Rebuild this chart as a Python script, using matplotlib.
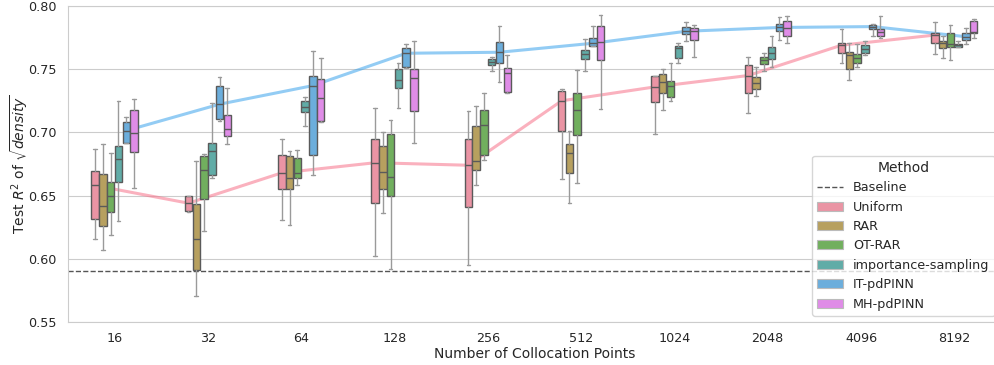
import matplotlib
matplotlib.use("Agg")
import matplotlib.pyplot as plt
from matplotlib.lines import Line2D
from matplotlib.patches import Patch
import seaborn as sns

# ==== data: [whisker_lo, q1, median, q3, whisker_hi] per collocation size ====
n_points = ["16", "32", "64", "128", "256", "512", "1024", "2048", "4096", "8192"]
methods = ["Uniform", "RAR", "OT-RAR", "importance-sampling", "IT-pdPINN", "MH-pdPINN"]
baseline = 0.59

uniform = [
    [0.6156, 0.6316, 0.658, 0.6696, 0.687],
    [0.637, 0.638, 0.644, 0.650, 0.650],
    [0.631, 0.655, 0.668, 0.682, 0.695],
    [0.602, 0.644, 0.676, 0.695, 0.719],
    [0.595, 0.641, 0.674, 0.695, 0.717],
    [0.663, 0.701, 0.725, 0.7325, 0.734],
    [0.699, 0.724, 0.736, 0.745, 0.745],
    [0.715, 0.731, 0.745, 0.753, 0.760],
    [0.755, 0.763, 0.769, 0.771, 0.782],
    [0.762, 0.771, 0.777, 0.779, 0.787],
]
rar = [
    [0.607, 0.626, 0.642, 0.667, 0.691],
    [0.5705, 0.591, 0.616, 0.6435, 0.6775],
    [0.627, 0.655, 0.664, 0.681, 0.685],
    [0.636, 0.655, 0.669, 0.689, 0.700],
    [0.658, 0.670, 0.6775, 0.705, 0.721],
    [0.644, 0.668, 0.684, 0.691, 0.701],
    [0.718, 0.7315, 0.740, 0.746, 0.750],
    [0.729, 0.734, 0.739, 0.744, 0.752],
    [0.7415, 0.750, 0.7615, 0.7634, 0.771],
    [0.759, 0.7666, 0.7705, 0.772, 0.776],
]
ot_rar = [
    [0.619, 0.637, 0.6495, 0.661, 0.684],
    [0.622, 0.647, 0.670, 0.681, 0.683],
    [0.658, 0.664, 0.668, 0.680, 0.686],
    [0.5916, 0.6495, 0.6645, 0.6985, 0.7096],
    [0.6785, 0.682, 0.706, 0.718, 0.731],
    [0.660, 0.698, 0.718, 0.731, 0.749],
    [0.725, 0.728, 0.737, 0.741, 0.755],
    [0.7486, 0.754, 0.757, 0.7594, 0.7626],
    [0.752, 0.755, 0.7586, 0.762, 0.770],
    [0.757, 0.7676, 0.770, 0.779, 0.785],
]
imp_sampling = [
    [0.630, 0.6606, 0.679, 0.689, 0.725],
    [0.664, 0.666, 0.685, 0.692, 0.723],
    [0.705, 0.716, 0.720, 0.725, 0.728],
    [0.719, 0.735, 0.7415, 0.750, 0.755],
    [0.7486, 0.753, 0.756, 0.7584, 0.7594],
    [0.7486, 0.758, 0.762, 0.765, 0.774],
    [0.755, 0.759, 0.7665, 0.768, 0.7705],
    [0.752, 0.758, 0.7626, 0.7673, 0.776],
    [0.761, 0.7626, 0.7658, 0.7694, 0.7726],
    [0.7678, 0.7678, 0.7689, 0.770, 0.772],
]
it_pdpinn = [
    [0.6915, 0.692, 0.7014, 0.708, 0.712],
    [0.709, 0.7107, 0.7223, 0.737, 0.744],
    [0.666, 0.682, 0.737, 0.7444, 0.764],
    [0.751, 0.7515, 0.7626, 0.7665, 0.770],
    [0.740, 0.755, 0.7634, 0.7713, 0.784],
    [0.7686, 0.7686, 0.7705, 0.775, 0.7845],
    [0.772, 0.7776, 0.780, 0.783, 0.787],
    [0.773, 0.780, 0.783, 0.786, 0.791],
    [0.776, 0.7816, 0.7837, 0.785, 0.786],
    [0.770, 0.773, 0.7757, 0.7784, 0.7826],
]
mh_pdpinn = [
    [0.6564, 0.6848, 0.6993, 0.718, 0.7267],
    [0.6907, 0.6975, 0.7025, 0.714, 0.735],
    [0.708, 0.709, 0.727, 0.7426, 0.759],
    [0.692, 0.717, 0.743, 0.750, 0.772],
    [0.731, 0.7317, 0.7468, 0.7507, 0.761],
    [0.7186, 0.757, 0.7715, 0.784, 0.793],
    [0.760, 0.7734, 0.780, 0.7823, 0.785],
    [0.771, 0.776, 0.7826, 0.788, 0.792],
    [0.7745, 0.776, 0.7794, 0.782, 0.792],
    [0.7745, 0.7784, 0.7797, 0.788, 0.790],
]
summaries = [uniform, rar, ot_rar, imp_sampling, it_pdpinn, mh_pdpinn]

# ==== style ====
sns.set_style("whitegrid")
plt.rcParams["font.family"] = ["DejaVu Sans"]
raw_colors = sns.color_palette("husl", len(methods))


def soften(c, amt=0.15):
    # desaturate like seaborn boxplot, then lift toward white a bit
    r, g, b = sns.desaturate(c, 0.75)
    return (r + (1 - r) * amt, g + (1 - g) * amt, b + (1 - b) * amt)


box_colors = [soften(c) for c in raw_colors]
edge_col = "#5a5a5a"
whisk_col = "#9a9a9a"

fig = plt.figure(figsize=(9.95, 3.65), dpi=100)
ax = fig.add_axes([0.0683, 0.1178, 0.9377, 0.8658])

n_hue = len(methods)
slot = 0.5 / n_hue
box_w = slot * 0.96
offsets = [(i - (n_hue - 1) / 2) * slot for i in range(n_hue)]

for k, (name, summ) in enumerate(zip(methods, summaries)):
    stats = []
    for lo, q1, med, q3, hi in summ:
        stats.append(dict(whislo=lo, q1=q1, med=med, q3=q3, whishi=hi, fliers=[]))
    pos = [g + offsets[k] for g in range(len(n_points))]
    ax.bxp(stats, positions=pos, widths=box_w, patch_artist=True,
           showfliers=False, manage_ticks=False, zorder=3,
           boxprops=dict(facecolor=box_colors[k], edgecolor=edge_col, linewidth=1.0),
           medianprops=dict(color=edge_col, linewidth=1.0),
           whiskerprops=dict(color=whisk_col, linewidth=1.0),
           capprops=dict(color=whisk_col, linewidth=1.0))

# median trend lines for Uniform and IT-pdPINN
for k in (0, 4):
    xs = [g + offsets[k] for g in range(len(n_points))]
    meds = [s[2] for s in summaries[k]]
    ax.plot(xs, meds, color=raw_colors[k], alpha=0.55, lw=2.2, zorder=2,
            solid_capstyle="round")

ax.axhline(baseline, color="#555555", linestyle="--", lw=1.0, zorder=1)

ax.set_xlim(-0.5, len(n_points) - 0.5)
ax.set_ylim(0.55, 0.80)
ax.set_xticks(range(len(n_points)))
ax.set_xticklabels(n_points)
ax.set_yticks([0.55, 0.60, 0.65, 0.70, 0.75, 0.80])
ax.set_yticklabels(["0.55", "0.60", "0.65", "0.70", "0.75", "0.80"])
ax.tick_params(axis="x", labelsize=9.2, colors="#262626", pad=4)
ax.tick_params(axis="y", labelsize=9.2, colors="#262626", pad=5)
ax.xaxis.grid(False)
ax.set_xlabel("Number of Collocation Points", fontsize=10, color="#262626", labelpad=1)
ax.set_ylabel(r"Test $R^2$ of $\sqrt{density}$", fontsize=10, color="#262626", labelpad=-2)

handles = [Line2D([0], [0], color="#555555", linestyle="--", lw=1.0)]
handles += [Patch(facecolor=c, edgecolor="#bbbbbb", linewidth=0.8) for c in box_colors]
ax.legend(handles, ["Baseline"] + methods, title="Method", loc="lower right",
          fontsize=9.2, title_fontsize=10, framealpha=0.8)

fig.savefig("out.png", dpi=100)
